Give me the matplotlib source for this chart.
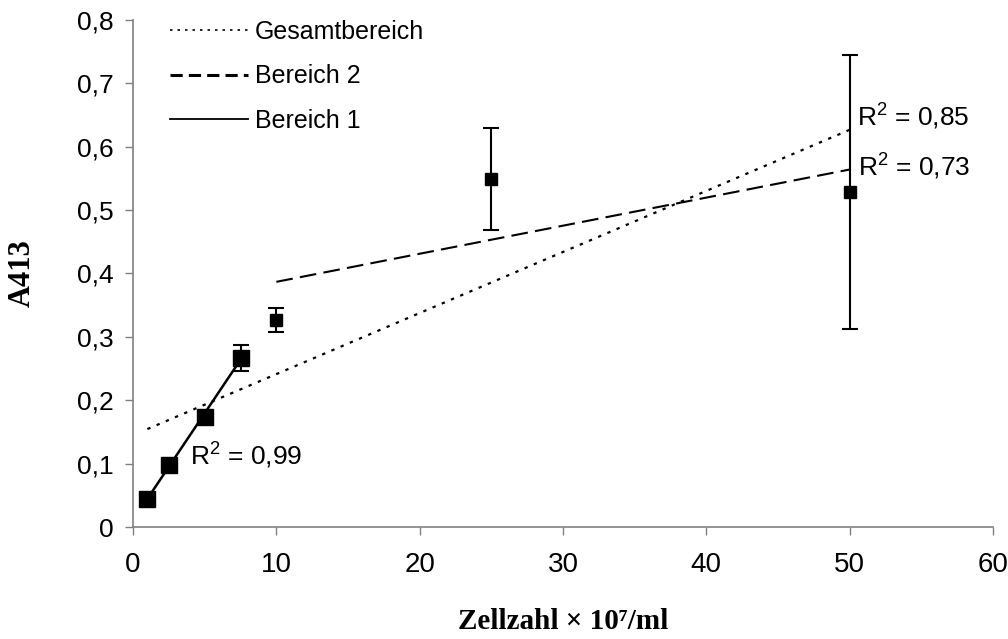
import numpy as np
import matplotlib
matplotlib.use("Agg")
import matplotlib.pyplot as plt
from matplotlib.lines import Line2D

# Messwerte
zellzahl = [1, 2.5, 5, 7.5, 10, 25, 50]
a413 = [0.045, 0.098, 0.174, 0.267, 0.327, 0.549, 0.528]
fehler = [0.004, 0.004, 0.004, 0.020, 0.019, 0.080, 0.216]
marker_gross = [True, True, True, True, False, False, False]

# Bereiche fuer die Trendlinien (Indizes)
bereich1 = [0, 1, 2, 3]
bereich2 = [4, 5, 6]
gesamt = [0, 1, 2, 3, 4, 5, 6]

r2_texte = ["R$^2$ = 0,99", "R$^2$ = 0,85", "R$^2$ = 0,73"]
r2_pos = [(4.0, 0.113), (50.5, 0.647), (50.6, 0.568)]

plt.rcParams['font.family'] = ['Liberation Sans', 'DejaVu Sans']
plt.rcParams['mathtext.fontset'] = 'custom'
plt.rcParams['mathtext.rm'] = 'Liberation Sans'
plt.rcParams['mathtext.it'] = 'Liberation Sans'

fig = plt.figure(figsize=(10.08, 6.39), dpi=100)
ax = fig.add_axes([0.132, 0.175, 0.853, 0.794])

x = np.array(zellzahl)
y = np.array(a413)


def trend(idx):
    k, d = np.polyfit(x[idx], y[idx], 1)
    xs = np.array([x[idx].min(), x[idx].max()])
    return xs, k * xs + d


xs, ys = trend(gesamt)
ax.plot(xs, ys, color='black', lw=1.6, dashes=(1.5, 3))
xs, ys = trend(bereich2)
ax.plot(xs, ys, color='black', lw=1.5, dashes=(8, 3.5))
xs, ys = trend(bereich1)
ax.plot(xs, ys, color='black', lw=1.8)

for xi, yi, ei, gross in zip(zellzahl, a413, fehler, marker_gross):
    ax.errorbar(xi, yi, yerr=ei, fmt='s', color='black', ms=12 if gross else 8.5,
                ecolor='black', elinewidth=1.5, capsize=6, capthick=1.5, zorder=3)

for t, (tx, ty) in zip(r2_texte, r2_pos):
    ax.text(tx, ty, t, fontsize=19, va='center', ha='left')

handles = [Line2D([], [], color='black', lw=1.2, dashes=(1.5, 3)),
           Line2D([], [], color='black', lw=2.2, dashes=(4, 2)),
           Line2D([], [], color='black', lw=1.3)]
ax.legend(handles, ['Gesamtbereich', 'Bereich 2', 'Bereich 1'], loc='upper left',
          bbox_to_anchor=(0.043, 1.0), frameon=False, fontsize=18,
          handlelength=3.1, handletextpad=0.3, labelspacing=0.82, borderpad=0,
          borderaxespad=0)

ax.set_xlim(0, 60)
ax.set_ylim(0, 0.8)
ax.set_xticks(np.arange(0, 61, 10))
ax.set_yticks(np.arange(0, 0.81, 0.1))
ax.set_yticklabels(['0'] + [f"{v:.1f}".replace('.', ',') for v in np.arange(0.1, 0.81, 0.1)])
ax.tick_params(length=6, width=1, color='#808080', direction='out')
ax.tick_params(axis='y', labelsize=19, pad=8)
ax.tick_params(axis='x', labelsize=20, pad=12)
for s in ['top', 'right']:
    ax.spines[s].set_visible(False)
for s in ['left', 'bottom']:
    ax.spines[s].set_color('#808080')
    ax.spines[s].set_linewidth(1.2)

ax.set_ylabel('A413', fontsize=22, fontweight='bold', family=['Liberation Serif', 'DejaVu Serif'])
ax.yaxis.set_label_coords(-0.112, 0.5)
ax.set_xlabel('Zellzahl × 10⁷/ml', fontsize=21, fontweight='bold',
              family=['Liberation Serif', 'DejaVu Serif'], va='top')
ax.xaxis.set_label_coords(0.5, -0.160)

fig.savefig('out.png', dpi=100)
